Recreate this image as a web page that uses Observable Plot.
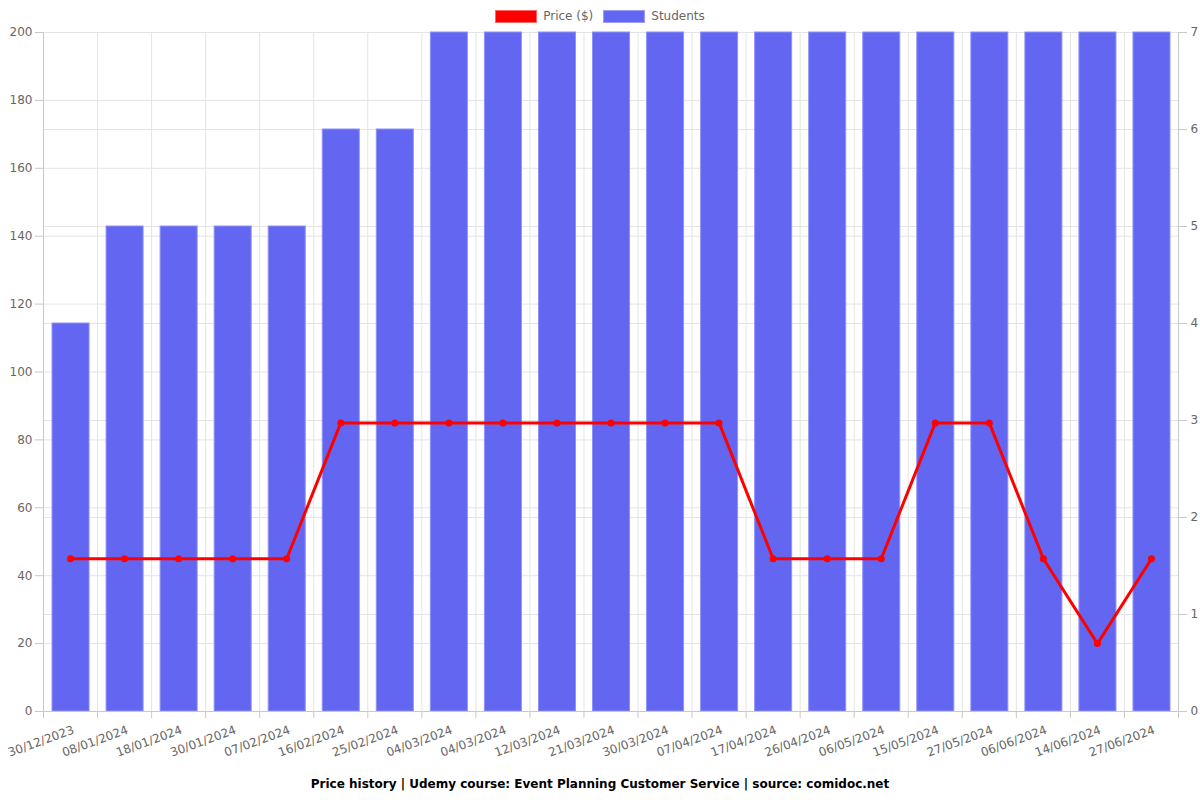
<!DOCTYPE html>
<html>
<head>
<meta charset="utf-8">
<script src="https://cdn.jsdelivr.net/npm/d3@7"></script>
<script src="https://cdn.jsdelivr.net/npm/@observablehq/plot@0.6"></script>
<style>
  html, body { margin: 0; padding: 0; background: #fff; overflow: hidden; }
  body { width: 1200px; font-family: "DejaVu Sans", sans-serif; }
  #legend { height: 26px; display: flex; justify-content: center; align-items: center; font-size: 12px; color: #666; padding-top: 6px; box-sizing: border-box; }
  .item { display: flex; align-items: center; margin: 0 5px; }
  .sw { width: 42px; height: 13px; margin-right: 6px; box-sizing: border-box; }
  #caption { text-align: center; font-weight: bold; font-size: 12px; color: #000; height: 34px; line-height: 34px; padding-top: 1px; }
  svg { display: block; }
</style>
</head>
<body>
<div id="legend">
  <div class="item"><div class="sw" style="background:#ff0000;border:1px solid #ff6666"></div><span>Price ($)</span></div>
  <div class="item"><div class="sw" style="background:#6366f1;border:1px solid #9a9cf7"></div><span>Students</span></div>
</div>
<div id="chart"></div>
<div id="caption">Price history | Udemy course: Event Planning Customer Service | source: comidoc.net</div>
<script>
const dates = ["30/12/2023","08/01/2024","18/01/2024","30/01/2024","07/02/2024","16/02/2024","25/02/2024","04/03/2024","04/03/2024","12/03/2024","21/03/2024","30/03/2024","07/04/2024","17/04/2024","26/04/2024","06/05/2024","15/05/2024","27/05/2024","06/06/2024","14/06/2024","27/06/2024"];
const prices = [45,45,45,45,45,85,85,85,85,85,85,85,85,45,45,45,85,85,45,20,45];
const students = [4,5,5,5,5,6,6,7,7,7,7,7,7,7,7,7,7,7,7,7,7];
const priceTicks = [0,20,40,60,80,100,120,140,160,180,200];
const studentTicks = [0,1,2,3,4,5,6,7];

const priceMax = 200, studentMax = 7;
const k = priceMax / studentMax;
const rows = dates.map((d, i) => ({i, date: d, price: prices[i], students: students[i]}));
const bounds = d3.range(dates.length + 1);
const centers = d3.range(dates.length).map(i => i + 0.5);
const gridCol = "#e4e4e4";
const axisCol = "#c8c8c8";

const chart = Plot.plot({
  width: 1200,
  height: 740,
  marginTop: 6,
  marginBottom: 55,
  marginLeft: 43,
  marginRight: 22,
  style: {fontFamily: "DejaVu Sans, sans-serif", fontSize: "12px", color: "#666", background: "#fff"},
  x: {type: "linear", domain: [0, dates.length], axis: null},
  y: {domain: [0, priceMax], axis: null},
  marks: [
    Plot.gridY(priceTicks, {stroke: gridCol, strokeOpacity: 1}),
    Plot.gridY(studentTicks.map(t => t * k), {stroke: gridCol, strokeOpacity: 1}),
    Plot.gridX(bounds, {stroke: gridCol, strokeOpacity: 1}),
    Plot.rectY(rows, {x1: d => d.i + 0.167, x2: d => d.i + 0.852, y: d => d.students * k, fill: "#6366f1", stroke: "#8f92f6", strokeWidth: 1, inset: 0}),
    Plot.ruleX([0], {stroke: axisCol}),
    Plot.ruleX([dates.length], {stroke: axisCol}),
    Plot.ruleY([0], {stroke: axisCol}),
    Plot.axisY(priceTicks, {anchor: "left", tickSize: 8, tickPadding: 3, stroke: axisCol, label: null, tickFormat: d => d, fill: "#666"}),
    Plot.axisY(studentTicks.map(t => t * k), {anchor: "right", tickSize: 8, tickPadding: 4, stroke: axisCol, label: null, tickFormat: d => Math.round(d / k), fill: "#666"}),
    Plot.axisX(bounds, {anchor: "bottom", tickSize: 7, tickFormat: () => "", stroke: axisCol, label: null}),
    Plot.axisX(centers, {anchor: "bottom", tickSize: 0, tickPadding: 18, tickRotate: -20, textAnchor: "end", dx: 3, tickFormat: d => dates[Math.floor(d)], label: null, fill: "#666"}),
    Plot.line(rows, {x: d => d.i + 0.5, y: "price", stroke: "#ff0000", strokeWidth: 3}),
    Plot.dot(rows, {x: d => d.i + 0.5, y: "price", fill: "#ff0000", r: 3.5})
  ]
});
document.getElementById("chart").appendChild(chart);
</script>
</body>
</html>
